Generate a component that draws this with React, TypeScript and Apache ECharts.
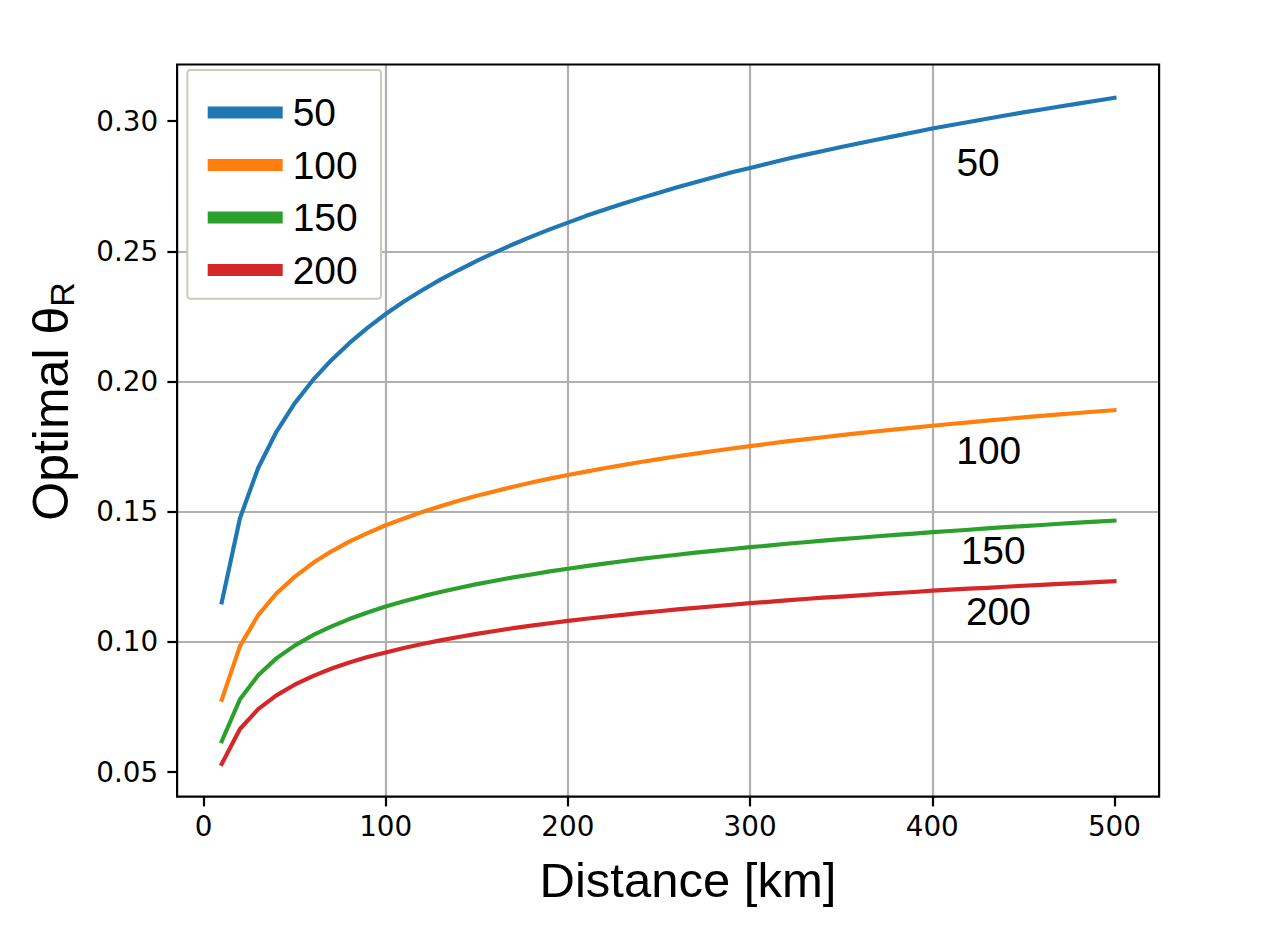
import React, { useEffect, useRef } from 'react';
import * as echarts from 'echarts';

// ---- data ----
const DISTANCES = [
  10, 20, 30, 40, 50, 60, 70, 80, 90, 100,
  110, 120, 130, 140, 150, 160, 170, 180, 190, 200,
  210, 220, 230, 240, 250, 260, 270, 280, 290, 300,
  310, 320, 330, 340, 350, 360, 370, 380, 390, 400,
  410, 420, 430, 440, 450, 460, 470, 480, 490, 500,
];

const THETA_50 = [
  0.1152, 0.1475, 0.1668, 0.1807, 0.1916, 0.2005, 0.2081, 0.2147, 0.2206, 0.2259,
  0.2307, 0.2350, 0.2391, 0.2428, 0.2463, 0.2496, 0.2527, 0.2556, 0.2584, 0.2610,
  0.2636, 0.2659, 0.2682, 0.2704, 0.2725, 0.2746, 0.2765, 0.2784, 0.2803, 0.2820,
  0.2837, 0.2854, 0.2870, 0.2885, 0.2900, 0.2915, 0.2929, 0.2943, 0.2957, 0.2971,
  0.2984, 0.2996, 0.3009, 0.3021, 0.3033, 0.3044, 0.3056, 0.3067, 0.3078, 0.3089,
];

const THETA_100 = [
  0.0778, 0.0984, 0.1103, 0.1186, 0.1250, 0.1303, 0.1347, 0.1385, 0.1418, 0.1448,
  0.1474, 0.1499, 0.1521, 0.1542, 0.1561, 0.1579, 0.1596, 0.1612, 0.1627, 0.1641,
  0.1654, 0.1667, 0.1679, 0.1691, 0.1702, 0.1713, 0.1723, 0.1733, 0.1743, 0.1752,
  0.1761, 0.1770, 0.1778, 0.1786, 0.1794, 0.1802, 0.1809, 0.1816, 0.1823, 0.1830,
  0.1837, 0.1843, 0.1850, 0.1856, 0.1862, 0.1868, 0.1874, 0.1879, 0.1885, 0.1890,
];

const THETA_150 = [
  0.0619, 0.0780, 0.0872, 0.0937, 0.0986, 0.1026, 0.1059, 0.1088, 0.1113, 0.1136,
  0.1156, 0.1175, 0.1192, 0.1207, 0.1222, 0.1235, 0.1248, 0.1259, 0.1271, 0.1281,
  0.1291, 0.1301, 0.1310, 0.1319, 0.1327, 0.1335, 0.1343, 0.1350, 0.1357, 0.1364,
  0.1370, 0.1377, 0.1383, 0.1389, 0.1395, 0.1400, 0.1406, 0.1411, 0.1416, 0.1422,
  0.1426, 0.1431, 0.1436, 0.1441, 0.1445, 0.1449, 0.1454, 0.1458, 0.1462, 0.1466,
];

const THETA_200 = [
  0.0532, 0.0666, 0.0742, 0.0795, 0.0836, 0.0869, 0.0897, 0.0921, 0.0942, 0.0960,
  0.0977, 0.0992, 0.1006, 0.1019, 0.1031, 0.1042, 0.1053, 0.1063, 0.1072, 0.1081,
  0.1089, 0.1097, 0.1104, 0.1112, 0.1118, 0.1125, 0.1131, 0.1137, 0.1143, 0.1149,
  0.1154, 0.1160, 0.1165, 0.1170, 0.1174, 0.1179, 0.1184, 0.1188, 0.1192, 0.1197,
  0.1201, 0.1205, 0.1208, 0.1212, 0.1216, 0.1219, 0.1223, 0.1226, 0.1230, 0.1233,
];

const SERIES_NAMES = ['50', '100', '150', '200'];
const SERIES_VALUES = [THETA_50, THETA_100, THETA_150, THETA_200];

const X_TICKS = [0, 100, 200, 300, 400, 500];
const Y_TICKS = [0.05, 0.1, 0.15, 0.2, 0.25, 0.3];

// in-plot curve annotations (text, data-space anchor)
const CURVE_LABELS = ['50', '100', '150', '200'];
const CURVE_LABEL_X = [413, 412.9, 415.3, 418.2];
const CURVE_LABEL_Y = [0.2841, 0.1735, 0.1352, 0.1116];

// ---- styling / layout ----
const COLORS = ['#1f77b4', '#ff7f0e', '#2ca02c', '#d62728'];
const GRID = { left: 177.1, top: 64.5, width: 982, height: 732.2 };
const SANS = 'Liberation Sans, Arial, sans-serif';
const TICK_FONT = 'DejaVu Sans, sans-serif';

export default function App() {
  const ref = useRef<HTMLDivElement | null>(null);

  useEffect(() => {
    document.body.style.margin = '0';
    if (!ref.current) return;
    const chart = echarts.init(ref.current, null, { renderer: 'svg' });

    const lineSeries = SERIES_NAMES.map((name, i) => ({
      type: 'line',
      name,
      data: DISTANCES.map((d, j) => [d, SERIES_VALUES[i][j]]),
      symbol: 'none',
      showSymbol: false,
      silent: true,
      color: COLORS[i],
      itemStyle: { color: COLORS[i] },
      lineStyle: { color: COLORS[i], width: 4.17, cap: 'square', join: 'round' },
      z: 2,
    }));

    const option: any = {
      animation: false,
      backgroundColor: '#ffffff',
      grid: { ...GRID, containLabel: false, show: false },
      xAxis: {
        type: 'value',
        min: -14.5,
        max: 524.5,
        minInterval: 100,
        maxInterval: 100,
        axisLine: { show: false, onZero: false },
        axisTick: {
          show: true,
          inside: false,
          length: 9.7,
          customValues: X_TICKS,
          lineStyle: { color: '#000', width: 2.2 },
        },
        axisLabel: {
          show: true,
          customValues: X_TICKS,
          formatter: (v: number) => String(Math.round(v)),
          color: '#000',
          fontFamily: TICK_FONT,
          fontSize: 27.8,
          lineHeight: 28,
          margin: 15.3,
        },
        splitLine: {
          show: true,
          showMinLine: false,
          showMaxLine: false,
          lineStyle: { color: '#b0b0b0', width: 2.2 },
        },
      },
      yAxis: {
        type: 'value',
        min: 0.0406,
        max: 0.3217,
        minInterval: 0.05,
        maxInterval: 0.05,
        axisLine: { show: false, onZero: false },
        axisTick: {
          show: true,
          inside: false,
          length: 9.7,
          customValues: Y_TICKS,
          lineStyle: { color: '#000', width: 2.2 },
        },
        axisLabel: {
          show: true,
          customValues: Y_TICKS,
          formatter: (v: number) => v.toFixed(2),
          color: '#000',
          fontFamily: TICK_FONT,
          fontSize: 27.8,
          lineHeight: 28,
          margin: 19,
        },
        splitLine: {
          show: true,
          showMinLine: false,
          showMaxLine: false,
          lineStyle: { color: '#b0b0b0', width: 2.2 },
        },
      },
      legend: {
        show: true,
        data: SERIES_NAMES,
        orient: 'vertical',
        left: 187.3,
        top: 70,
        icon: 'rect',
        itemWidth: 75,
        itemHeight: 12,
        itemGap: 12.5,
        selectedMode: false,
        padding: [22.5, 23.4, 8.7, 20.4],
        backgroundColor: '#ffffff',
        borderColor: '#c9cbbf',
        borderWidth: 2,
        borderRadius: 3,
        itemStyle: { borderWidth: 0 },
        textStyle: {
          fontFamily: SANS,
          fontSize: 38.9,
          lineHeight: 40,
          color: '#000',
          padding: [0, 0, 0, 5],
        },
        z: 10,
      },
      series: [
        ...lineSeries,
        {
          type: 'scatter',
          name: 'curve-labels',
          silent: true,
          symbolSize: 1,
          itemStyle: { color: 'rgba(0,0,0,0)', opacity: 1 },
          data: CURVE_LABELS.map((t, i) => ({ name: t, value: [CURVE_LABEL_X[i], CURVE_LABEL_Y[i]] })),
          label: {
            show: true,
            position: 'right',
            distance: 0,
            formatter: '{b}',
            color: '#000000',
            opacity: 1,
            fontFamily: SANS,
            fontSize: 38.9,
          },
          z: 3,
        },
      ],
      graphic: [
        {
          type: 'rect',
          z: 50,
          silent: true,
          shape: { x: GRID.left, y: GRID.top, width: GRID.width, height: GRID.height },
          style: { fill: 'none', stroke: '#000', lineWidth: 2.2 },
        },
        {
          type: 'text',
          z: 50,
          silent: true,
          x: 688,
          y: 880.3,
          style: {
            text: 'Distance [km]',
            fontFamily: SANS,
            fontSize: 49,
            fill: '#000',
            align: 'center',
            verticalAlign: 'middle',
          },
        },
        {
          type: 'text',
          z: 50,
          silent: true,
          x: 51,
          y: 401.5,
          rotation: Math.PI / 2,
          style: {
            text: '{a|Optimal θ}{b|R}',
            align: 'center',
            verticalAlign: 'middle',
            fill: '#000',
            rich: {
              a: { fontFamily: SANS, fontSize: 50, lineHeight: 56, fill: '#000' },
              b: { fontFamily: SANS, fontSize: 34, lineHeight: 34, verticalAlign: 'bottom', fill: '#000' },
            },
          },
        },
      ],
    };

    chart.setOption(option);
    return () => {
      chart.dispose();
    };
  }, []);

  return (
    <div
      ref={ref}
      style={{ position: 'fixed', left: 0, top: 0, width: 1268, height: 925, background: '#fff' }}
    />
  );
}
